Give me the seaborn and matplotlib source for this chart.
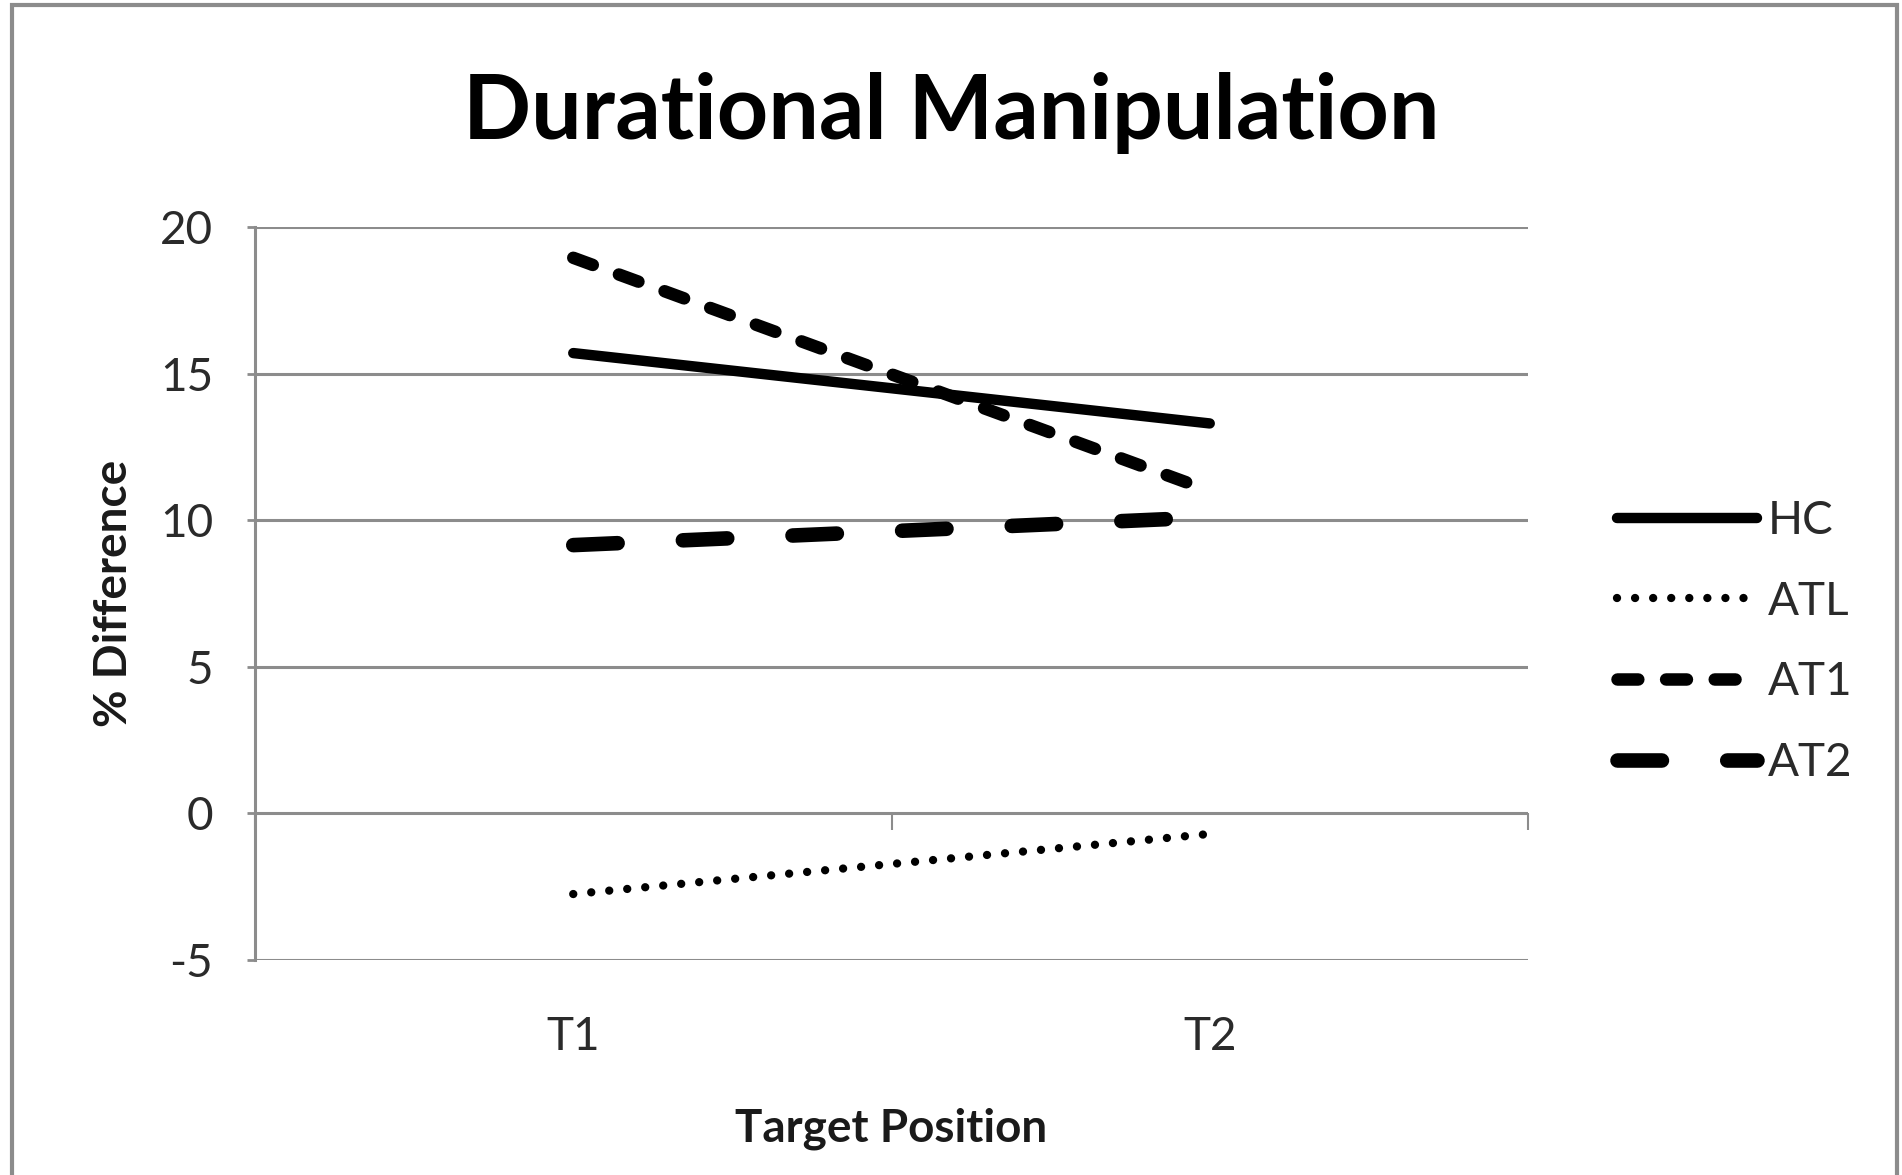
import matplotlib
matplotlib.use("Agg")
import matplotlib.pyplot as plt
from matplotlib.patches import Rectangle
import seaborn as sns
import pandas as pd

# ---- data ----
positions = ["T1", "T2"]
groups = ["HC", "ATL", "AT1", "AT2"]
hc_vals = [15.7, 13.3]
atl_vals = [-2.75, -0.7]
at1_vals = [18.95, 11.0]
at2_vals = [9.15, 10.1]
y_ticks = [-5, 0, 5, 10, 15, 20]

series = {"HC": hc_vals, "ATL": atl_vals, "AT1": at1_vals, "AT2": at2_vals}

sns.set_theme(style="white")
plt.rcParams["font.family"] = ["Lato", "DejaVu Sans"]
plt.rcParams["lines.scale_dashes"] = False

fig = plt.figure(figsize=(19.02, 11.75), dpi=100)
ax = fig.add_axes([255 / 1902, 1 - 960 / 1175, (1528 - 255) / 1902, (960 - 227) / 1175])

styles = {
    "HC": dict(lw=7.5, dashes=None),
    "ATL": dict(lw=6.0, dashes=(0.01, 13.0)),
    "AT1": dict(lw=9.0, dashes=(15, 20)),
    "AT2": dict(lw=10.5, dashes=(32, 47)),
}

for g in groups:
    df = pd.DataFrame({"pos": positions, "val": series[g]})
    sns.lineplot(data=df, x="pos", y="val", ax=ax, color="black",
                 linewidth=styles[g]["lw"], label=g, legend=False)
    ln = ax.lines[-1]
    ln.set_solid_capstyle("round")
    ln.set_dash_capstyle("round")
    if styles[g]["dashes"] is not None:
        ln.set_dashes(styles[g]["dashes"])

ax.set_xlim(-0.5, 1.5)
ax.set_ylim(-5, 20)
ax.set_yticks(y_ticks)
ax.set_yticklabels([str(v) for v in y_ticks])
ax.set_xticks([0, 1])
ax.set_xticklabels(positions)

grid_c = "#8c8c8c"
ax.grid(axis="y", color=grid_c, linewidth=2.2)
ax.grid(axis="x", visible=False)
for s in ["top", "right", "bottom"]:
    ax.spines[s].set_visible(False)
ax.spines["left"].set_color(grid_c)
ax.spines["left"].set_linewidth(2.2)

ax.tick_params(axis="y", length=6, width=2, color=grid_c, pad=24,
               labelsize=33, labelcolor="#2a2a2a", left=True)
ax.tick_params(axis="x", length=0, pad=40, labelsize=33, labelcolor="#2a2a2a")

# category axis crossing at zero with tick marks at category boundaries
sec = ax.secondary_xaxis(5 / 25)
sec.set_xticks([-0.5, 0.5, 1.5])
sec.set_xticklabels(["", "", ""])
sec.tick_params(axis="x", direction="in", length=12, width=1.5, color=grid_c,
                bottom=False, top=True)
sec.spines["bottom"].set_visible(False)
sec.spines["top"].set_visible(False)

ax.set_xlabel("Target Position", fontsize=33, fontweight="bold",
              color="#1a1a1a", labelpad=36)
ax.set_ylabel("% Difference", fontsize=33, fontweight="bold",
              color="#1a1a1a", labelpad=18)

fig.text(0.5, 1 - 113 / 1175, "Durational Manipulation", ha="center",
         va="center", fontsize=64.5, fontweight="bold", color="black")

leg = ax.legend(loc="center left", bbox_to_anchor=(1617 / 1902, 1 - 642 / 1175),
                bbox_transform=fig.transFigure, frameon=False, fontsize=33,
                handlelength=3.05, handletextpad=0.25, labelspacing=0.85,
                borderpad=0, borderaxespad=0)
for t in leg.get_texts():
    t.set_color("#2a2a2a")

fig.patches.append(Rectangle((12 / 1902, -0.01), (1897 - 12) / 1902, 1.01 - 5 / 1175,
                             transform=fig.transFigure, fill=False,
                             edgecolor="#8c8c8c", linewidth=3))

fig.savefig("out.png", dpi=100, facecolor="white")
